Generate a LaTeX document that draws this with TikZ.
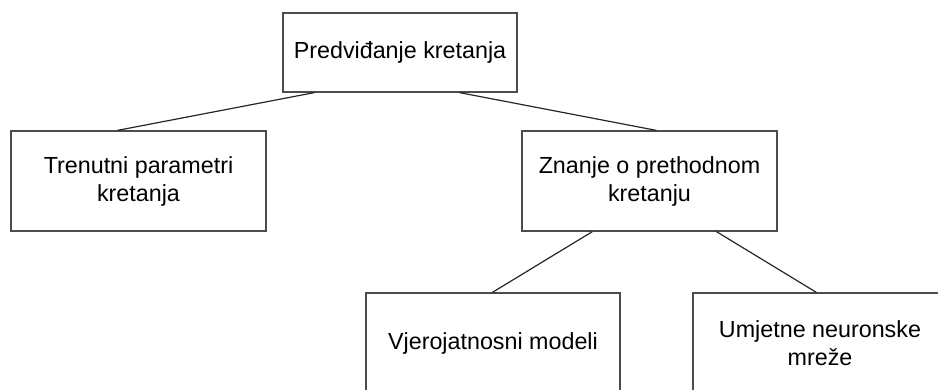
\documentclass[tikz,border=0pt]{standalone}
\usepackage{fontspec}
\setmainfont{Liberation Sans}
\begin{document}
\begin{tikzpicture}[x=1pt,y=-1pt,
  box/.style={draw=black!70, line width=1.2pt, fill=white, inner sep=0pt, align=center,
    font=\fontsize{23.3}{28}\selectfont},
  conn/.style={draw=black!85, line width=1.2pt}]
\useasboundingbox (0,0) rectangle (938,390);
\clip (0,0) rectangle (938,390);
\node[box, minimum width=234pt, minimum height=79pt] (top) at (400,52.5) {Predviđanje kretanja};
\node[box, minimum width=255pt, minimum height=100pt] (left) at (138.5,181) {Trenutni parametri\\kretanja};
\node[box, minimum width=255pt, minimum height=100pt] (right) at (649.5,181) {Znanje o prethodnom\\kretanju};
\node[box, minimum width=254pt, minimum height=100pt] (bl) at (493,343) {Vjerojatnosni modeli};
\node[box, minimum width=254pt, minimum height=100pt] (br) at (820,343) {Umjetne neuronske\\mreže};
\draw[conn] ([xshift=32pt]top.south west) -- ([xshift=107pt]left.north west);
\draw[conn] ([xshift=177pt]top.south west) -- ([xshift=135pt]right.north west);
\draw[conn] ([xshift=71pt]right.south west) -- ([xshift=127pt]bl.north west);
\draw[conn] ([xshift=195pt]right.south west) -- ([xshift=124pt]br.north west);
\end{tikzpicture}
\end{document}
